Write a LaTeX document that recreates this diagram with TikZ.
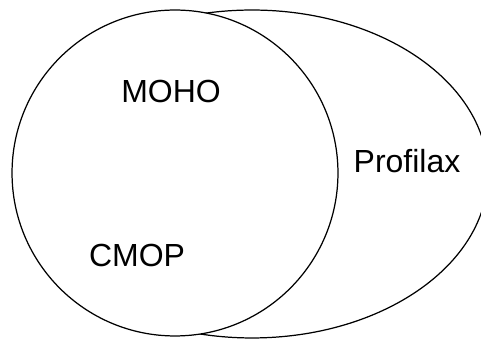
\documentclass[tikz,border=0pt]{standalone}
\usepackage{fontspec}
\setmainfont{Liberation Sans}
\usetikzlibrary{shapes.geometric}

\begin{document}
\begin{tikzpicture}[x=0.02cm, y=-0.02cm, line width=0.7pt,
  every node/.style={font=\fontsize{18.2}{20}\selectfont, inner sep=0pt},
  setbox/.style={draw=black, fill=white}]
  \useasboundingbox (0,0) rectangle (481,340);
  \clip (0,0) rectangle (481,340);
  \node[setbox, ellipse, minimum width=9.44cm, minimum height=6.56cm] (profilax) at (252,174) {};
  \node[setbox, circle, minimum size=6.52cm] (moho) at (175,173) {};
  \node[anchor=base] (mohotext) at (171,103) {MOHO};
  \node[anchor=base] (cmoptext) at (137,267) {CMOP};
  \node[anchor=base] (proftext) at (407,173) {Profilax};
\end{tikzpicture}
\end{document}
